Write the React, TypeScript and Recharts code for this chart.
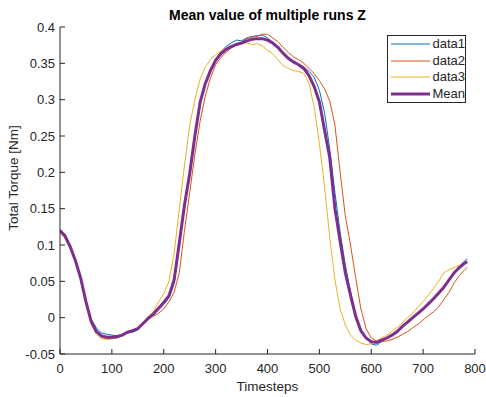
import React from 'react';
import { LineChart, Line, XAxis, YAxis, Legend } from 'recharts';

const timesteps = [
  0, 10, 20, 30, 40, 50, 60, 70, 80, 90,
  100, 110, 120, 130, 140, 150, 160, 170, 180, 190,
  200, 210, 220, 230, 240, 250, 260, 270, 280, 290,
  300, 310, 320, 330, 340, 350, 360, 370, 380, 390,
  400, 410, 420, 430, 440, 450, 460, 470, 480, 490,
  500, 510, 520, 530, 540, 550, 560, 570, 580, 590,
  600, 610, 620, 630, 640, 650, 660, 670, 680, 690,
  700, 710, 720, 730, 740, 750, 760, 770, 780, 785,
];

const data1 = [
  0.121, 0.113, 0.098, 0.079, 0.055, 0.024, -0.002, -0.014, -0.021, -0.023,
  -0.024, -0.025, -0.024, -0.021, -0.020, -0.017, -0.009, -0.002, 0.004, 0.011,
  0.018, 0.027, 0.047, 0.098, 0.152, 0.197, 0.249, 0.296, 0.323, 0.341,
  0.356, 0.366, 0.373, 0.378, 0.382, 0.381, 0.385, 0.387, 0.388, 0.389,
  0.385, 0.379, 0.372, 0.364, 0.357, 0.352, 0.349, 0.345, 0.339, 0.331,
  0.313, 0.282, 0.232, 0.172, 0.118, 0.072, 0.036, 0.005, -0.016, -0.028,
  -0.036, -0.038, -0.033, -0.028, -0.024, -0.020, -0.012, -0.006, 0.000, 0.006,
  0.012, 0.020, 0.026, 0.032, 0.040, 0.052, 0.063, 0.071, 0.078, 0.081,
];

const data2 = [
  0.120, 0.115, 0.098, 0.078, 0.053, 0.021, -0.006, -0.020, -0.027, -0.029,
  -0.029, -0.028, -0.025, -0.020, -0.018, -0.015, -0.008, -0.002, 0.002, 0.006,
  0.012, 0.022, 0.035, 0.062, 0.120, 0.172, 0.225, 0.270, 0.305, 0.330,
  0.348, 0.358, 0.365, 0.371, 0.375, 0.379, 0.384, 0.386, 0.387, 0.390,
  0.390, 0.385, 0.380, 0.372, 0.365, 0.359, 0.355, 0.350, 0.343, 0.336,
  0.326, 0.315, 0.298, 0.265, 0.200, 0.140, 0.100, 0.055, 0.012, -0.015,
  -0.028, -0.032, -0.033, -0.032, -0.030, -0.027, -0.023, -0.019, -0.014, -0.009,
  -0.003, 0.003, 0.008, 0.015, 0.025, 0.035, 0.048, 0.058, 0.066, 0.069,
];

const data3 = [
  0.116, 0.109, 0.095, 0.076, 0.052, 0.019, -0.009, -0.023, -0.029, -0.030,
  -0.029, -0.027, -0.024, -0.020, -0.019, -0.014, -0.007, 0.002, 0.008, 0.022,
  0.033, 0.050, 0.088, 0.150, 0.210, 0.265, 0.300, 0.328, 0.345, 0.355,
  0.362, 0.367, 0.371, 0.374, 0.376, 0.377, 0.378, 0.376, 0.377, 0.374,
  0.368, 0.363, 0.355, 0.347, 0.343, 0.340, 0.339, 0.336, 0.322, 0.290,
  0.240, 0.180, 0.110, 0.052, 0.012, -0.010, -0.024, -0.031, -0.035, -0.037,
  -0.036, -0.032, -0.028, -0.024, -0.019, -0.013, -0.007, 0.000, 0.006, 0.015,
  0.022, 0.031, 0.040, 0.050, 0.062, 0.066, 0.069, 0.072, 0.075, 0.077,
];

const meanValues = [
  0.120, 0.112, 0.097, 0.078, 0.054, 0.022, -0.005, -0.019, -0.025, -0.027,
  -0.027, -0.026, -0.024, -0.020, -0.018, -0.015, -0.008, -0.001, 0.005, 0.013,
  0.021, 0.030, 0.052, 0.103, 0.155, 0.198, 0.250, 0.296, 0.322, 0.340,
  0.354, 0.363, 0.369, 0.373, 0.376, 0.378, 0.381, 0.383, 0.384, 0.384,
  0.382, 0.378, 0.372, 0.364, 0.357, 0.352, 0.348, 0.343, 0.333, 0.318,
  0.297, 0.258, 0.220, 0.150, 0.105, 0.062, 0.031, 0.002, -0.018, -0.028,
  -0.033, -0.034, -0.031, -0.028, -0.024, -0.019, -0.012, -0.006, 0.000, 0.006,
  0.012, 0.019, 0.026, 0.034, 0.042, 0.052, 0.062, 0.069, 0.075, 0.077,
];

const seriesNames = ['data1', 'data2', 'data3', 'Mean'];
const seriesColors = ['#0072BD', '#D95319', '#EDB120', '#7E2F8E'];
const xTicks = [0, 100, 200, 300, 400, 500, 600, 700, 800];
const yTicks = [-0.05, 0, 0.05, 0.1, 0.15, 0.2, 0.25, 0.3, 0.35, 0.4];

const chartData = timesteps.map((t, i) => ({
  t,
  data1: data1[i],
  data2: data2[i],
  data3: data3[i],
  Mean: meanValues[i],
}));

const FONT = '"Liberation Sans", Arial, Helvetica, sans-serif';
const AXIS = '#262626';
const FS = 13;

const fmtY = (v: number) => String(Math.round(v * 100) / 100);

const EmptyTick = () => <g />;

const LegendBox = (props: any) => {
  const payload = [...(props.payload || [])].sort(
    (a: any, b: any) => seriesNames.indexOf(a.value) - seriesNames.indexOf(b.value)
  );
  return (
    <div
      style={{
        border: `1px solid ${AXIS}`,
        background: '#fff',
        width: 79,
        boxSizing: 'border-box',
        padding: '0 0 0 2px',
        fontFamily: FONT,
        fontSize: FS,
        color: AXIS,
      }}
    >
      {payload.map((p: any) => (
        <div key={p.value} style={{ display: 'flex', alignItems: 'center', height: 16.5 }}>
          <svg width={41} height={16} style={{ display: 'block' }}>
            <line
              x1={1}
              x2={40}
              y1={8}
              y2={8}
              stroke={p.color}
              strokeWidth={p.value === 'Mean' ? 3 : 1}
            />
          </svg>
          <span style={{ marginLeft: 2, lineHeight: '16px' }}>{p.value}</span>
        </div>
      ))}
    </div>
  );
};

export default function App() {
  return (
    <div style={{ position: 'relative', width: 486, height: 397, background: '#fff' }}>
      <style>{'body{margin:0}'}</style>
      <LineChart
        width={486}
        height={397}
        data={chartData}
        margin={{ top: 27, right: 11, bottom: 0, left: 0 }}
      >
        <XAxis
          xAxisId="b"
          dataKey="t"
          type="number"
          domain={[0, 800]}
          ticks={xTicks}
          height={43}
          tickSize={-5}
          tickMargin={15}
          axisLine={{ stroke: AXIS }}
          tickLine={{ stroke: AXIS }}
          tick={{ fill: AXIS, fontSize: FS, fontFamily: FONT }}
          allowDataOverflow
        />
        <XAxis
          xAxisId="t"
          orientation="top"
          dataKey="t"
          type="number"
          domain={[0, 800]}
          ticks={xTicks}
          height={0}
          tickSize={-5}
          axisLine={{ stroke: AXIS }}
          tickLine={{ stroke: AXIS }}
          tick={EmptyTick}
          allowDataOverflow
        />
        <YAxis
          yAxisId="l"
          type="number"
          domain={[-0.05, 0.4]}
          ticks={yTicks}
          width={60}
          tickSize={-5}
          tickMargin={10}
          tickFormatter={fmtY}
          axisLine={{ stroke: AXIS }}
          tickLine={{ stroke: AXIS }}
          tick={{ fill: AXIS, fontSize: FS, fontFamily: FONT }}
          allowDataOverflow
        />
        <YAxis
          yAxisId="r"
          orientation="right"
          type="number"
          domain={[-0.05, 0.4]}
          ticks={yTicks}
          width={0}
          tickSize={-5}
          axisLine={{ stroke: AXIS }}
          tickLine={{ stroke: AXIS }}
          tick={EmptyTick}
          allowDataOverflow
        />
        <Legend
          layout="vertical"
          align="center"
          verticalAlign="middle"
          content={LegendBox}
          wrapperStyle={{ position: 'absolute', top: 35, left: 387, width: 79 }}
        />
        {seriesNames.map((name, i) => (
          <Line
            key={name}
            xAxisId="b"
            yAxisId="l"
            dataKey={name}
            name={name}
            stroke={seriesColors[i]}
            strokeWidth={name === 'Mean' ? 3 : 1}
            dot={false}
            isAnimationActive={false}
          />
        ))}
      </LineChart>
      <div
        style={{
          position: 'absolute',
          left: 60,
          width: 415,
          top: 7,
          lineHeight: '16px',
          textAlign: 'center',
          fontFamily: FONT,
          fontSize: 14,
          fontWeight: 'bold',
          color: '#000',
        }}
      >
        Mean value of multiple runs Z
      </div>
      <div
        style={{
          position: 'absolute',
          left: 60,
          width: 415,
          top: 379,
          lineHeight: '16px',
          textAlign: 'center',
          fontFamily: FONT,
          fontSize: 13.5,
          color: AXIS,
        }}
      >
        Timesteps
      </div>
      <div
        style={{
          position: 'absolute',
          left: 14,
          top: 178,
          transform: 'translate(-50%, -50%) rotate(-90deg)',
          whiteSpace: 'nowrap',
          lineHeight: '16px',
          fontFamily: FONT,
          fontSize: 13.5,
          color: AXIS,
        }}
      >
        Total Torque [Nm]
      </div>
    </div>
  );
}
